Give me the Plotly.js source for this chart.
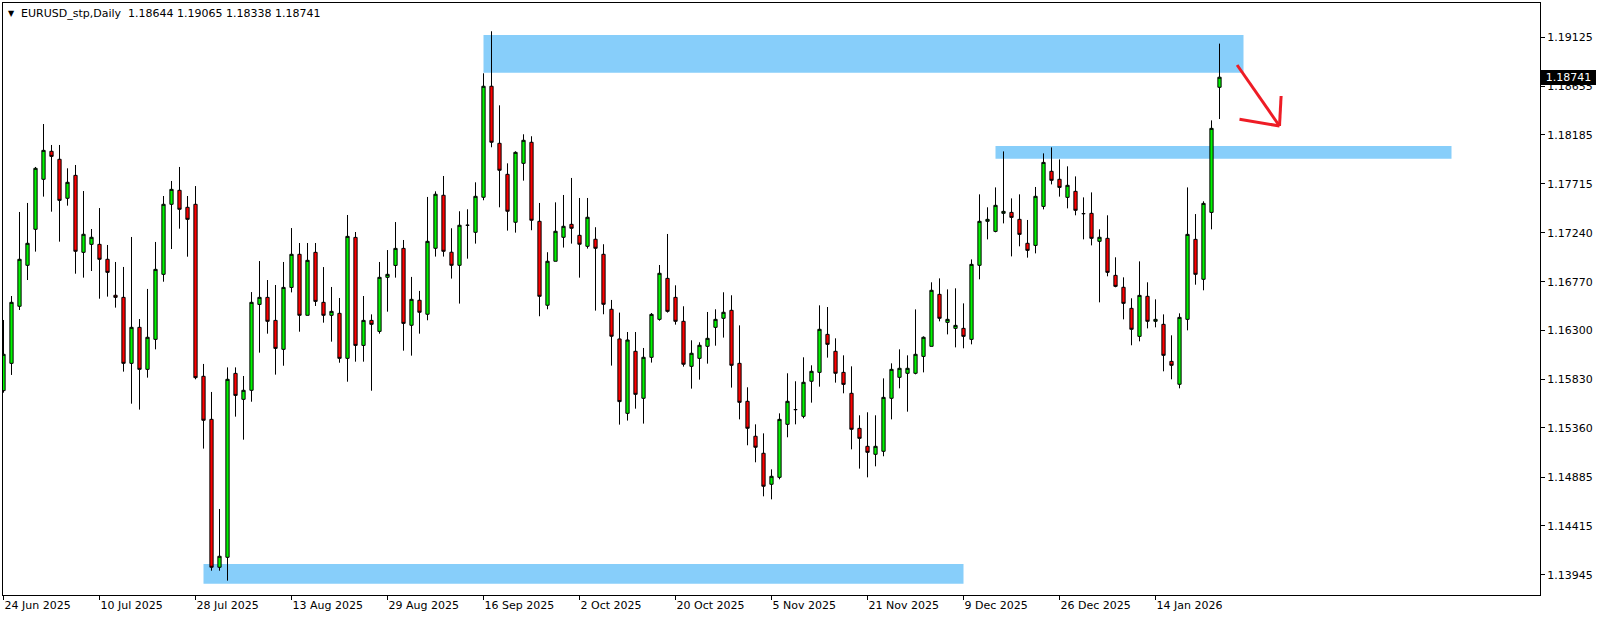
<!DOCTYPE html>
<html>
<head>
<meta charset="utf-8">
<script src="https://cdn.plot.ly/plotly-3.0.1.min.js"></script>
<style>
html,body{margin:0;padding:0;background:#fff;}
#chart{width:1604px;height:619px;}
</style>
</head>
<body>
<div id="chart"></div>
<script>
// ---- data (daily bars, index 0 = 24 Jun 2025) ----
const openP = [
1.15720,1.15983,1.16533,1.16928,1.17275,1.17757,1.18027,1.17950,1.17574,1.17795,
1.17053,1.17130,1.17130,1.16986,1.16639,1.16619,1.15983,1.16330,1.15925,1.16214,
1.16841,1.17516,1.17651,1.17487,1.17516,1.15858,1.15443,1.14017,1.14113,1.15886,
1.15636,1.15723,1.16551,1.16619,1.16397,1.16118,1.16715,1.17034,1.16446,1.17053,
1.16571,1.16446,1.16465,1.16031,1.17197,1.16156,1.16397,1.16291,1.16812,1.16927,
1.17091,1.16350,1.16591,1.16456,1.17092,1.17603,1.17054,1.16928,1.17314,1.17246,
1.17584,1.18654,1.18104,1.17805,1.17343,1.17911,1.18114,1.17352,1.16543,1.16967,
1.17198,1.17323,1.17217,1.17111,1.17179,1.17034,1.16504,1.16218,1.15501,1.16099,
1.15646,1.16041,1.16407,1.16802,1.16619,1.16388,1.15954,1.16031,1.16147,1.16330,
1.16417,1.16494,1.15983,1.15617,1.15280,1.15116,1.14817,1.14884,1.15395,1.15537,
1.15472,1.15810,1.15896,1.16262,1.16099,1.15896,1.15694,1.15356,1.15183,1.15106,
1.15135,1.15646,1.15848,1.15887,1.15887,1.16050,1.16147,1.16648,1.16378,1.16320,
1.16320,1.16214,1.16928,1.17352,1.17255,1.17429,1.17438,1.17371,1.17140,1.17120,
1.17496,1.17834,1.17757,1.17583,1.17641,1.17426,1.17429,1.17159,1.17188,1.16831,
1.16716,1.16513,1.16243,1.16629,1.16388,1.16359,1.16002,1.15781,1.16407,1.17178,
1.16793,1.17438,1.18644];
const highP = [
1.16401,1.16632,1.17442,1.17529,1.17876,1.18290,1.18088,1.18088,1.17863,1.17895,
1.17644,1.17278,1.17480,1.17124,1.16960,1.16912,1.17201,1.16410,1.16700,1.17153,
1.17596,1.17741,1.17876,1.17596,1.17692,1.15977,1.15707,1.14579,1.15944,1.15944,
1.15861,1.16670,1.16969,1.16786,1.16738,1.16960,1.17287,1.17143,1.17143,1.17143,
1.16911,1.16719,1.16613,1.17413,1.17249,1.16632,1.16455,1.16960,1.17075,1.17345,
1.17172,1.16816,1.16681,1.17587,1.17641,1.17789,1.17285,1.17449,1.17468,1.17728,
1.18779,1.19184,1.18470,1.17911,1.18027,1.18191,1.18172,1.17529,1.17054,1.17535,
1.17606,1.17770,1.17577,1.17577,1.17295,1.17131,1.16594,1.16472,1.16285,1.16285,
1.16131,1.16468,1.16931,1.17230,1.16735,1.16533,1.16205,1.16186,1.16478,1.16504,
1.16668,1.16639,1.16349,1.15752,1.15395,1.15308,1.14961,1.15501,1.15887,1.15810,
1.16041,1.15964,1.16542,1.16526,1.16224,1.16060,1.15954,1.15482,1.15511,1.15482,
1.15838,1.15983,1.16118,1.16060,1.16503,1.16243,1.16764,1.16802,1.16696,1.16706,
1.16561,1.16985,1.17612,1.17487,1.17679,1.18026,1.17573,1.17612,1.17365,1.17683,
1.18007,1.18065,1.17949,1.17882,1.17785,1.17583,1.17631,1.17275,1.17410,1.17005,
1.16812,1.16610,1.16966,1.16764,1.16600,1.16455,1.16253,1.16465,1.17679,1.17422,
1.17545,1.18325,1.19065];
const lowP = [
1.15700,1.15871,1.16497,1.16786,1.17060,1.17590,1.17445,1.17156,1.17503,1.16847,
1.16809,1.16873,1.16606,1.16626,1.16520,1.15903,1.15594,1.15537,1.15845,1.16118,
1.16770,1.17085,1.17281,1.17011,1.15829,1.15161,1.13984,1.13984,1.13888,1.15469,
1.15247,1.15613,1.16086,1.16269,1.15874,1.15960,1.16667,1.16288,1.16446,1.16536,
1.16375,1.16192,1.15989,1.15806,1.15999,1.15999,1.15719,1.16269,1.16481,1.16809,
1.16105,1.16057,1.16269,1.16398,1.17012,1.17012,1.16800,1.16559,1.16992,1.17137,
1.17555,1.18066,1.17487,1.17262,1.17243,1.17744,1.17266,1.16437,1.16504,1.16967,
1.17099,1.17137,1.16809,1.17089,1.16491,1.16456,1.15961,1.15392,1.15431,1.15546,
1.15402,1.15990,1.16394,1.16472,1.16356,1.15951,1.15739,1.15826,1.15980,1.16153,
1.16231,1.15749,1.15443,1.15193,1.15029,1.14701,1.14672,1.14865,1.15270,1.15395,
1.15453,1.15604,1.15758,1.16038,1.15797,1.15694,1.15154,1.14968,1.14884,1.14990,
1.15087,1.15443,1.15742,1.15517,1.15877,1.15896,1.16147,1.16388,1.16262,1.16137,
1.16128,1.16166,1.16793,1.17178,1.17246,1.17332,1.17014,1.17111,1.17002,1.17043,
1.17467,1.17708,1.17590,1.17477,1.17410,1.17178,1.17120,1.16571,1.16822,1.16716,
1.16407,1.16157,1.16195,1.16320,1.16330,1.15906,1.15829,1.15742,1.16301,1.16741,
1.16687,1.17275,1.18338];
const closeP = [
1.16070,1.16571,1.16986,1.17140,1.17863,1.18036,1.17978,1.17554,1.17728,1.17063,
1.17227,1.17198,1.16986,1.16860,1.16619,1.15983,1.16330,1.15925,1.16234,1.16889,
1.17516,1.17660,1.17468,1.17371,1.15845,1.15434,1.14017,1.14123,1.15829,1.15674,
1.15723,1.16571,1.16619,1.16388,1.16127,1.16715,1.17034,1.16446,1.16976,1.16580,
1.16446,1.16484,1.16031,1.17207,1.16156,1.16397,1.16359,1.16812,1.16841,1.17091,
1.16368,1.16600,1.16475,1.17159,1.17613,1.17063,1.16928,1.17314,1.17314,1.17593,
1.18654,1.18114,1.17844,1.17449,1.18017,1.18133,1.17362,1.16629,1.16967,1.17256,
1.17304,1.17285,1.17131,1.17391,1.17092,1.16552,1.16244,1.15614,1.16208,1.15684,
1.16041,1.16455,1.16851,1.16484,1.16388,1.15974,1.16080,1.16157,1.16224,1.16407,
1.16475,1.15964,1.15607,1.15357,1.15174,1.14798,1.14894,1.15443,1.15617,1.15537,
1.15800,1.15906,1.16311,1.16166,1.15887,1.15780,1.15347,1.15260,1.15125,1.15183,
1.15655,1.15925,1.15935,1.15935,1.16070,1.16234,1.16687,1.16417,1.16407,1.16349,
1.16243,1.16937,1.17352,1.17371,1.17506,1.17448,1.17390,1.17226,1.17072,1.17593,
1.17920,1.17747,1.17679,1.17699,1.17458,1.17426,1.17188,1.17198,1.16860,1.16725,
1.16561,1.16311,1.16638,1.16388,1.16407,1.16060,1.15964,1.16426,1.17226,1.16841,
1.17525,1.18248,1.18741];

const dateTickIdx = [0,12,24,36,48,60,72,84,96,108,120,132,144];
const dateTickText = ["24 Jun 2025","10 Jul 2025","28 Jul 2025","13 Aug 2025","29 Aug 2025",
  "16 Sep 2025","2 Oct 2025","20 Oct 2025","5 Nov 2025","21 Nov 2025","9 Dec 2025",
  "26 Dec 2025","14 Jan 2026"];
const priceTicks = [1.19125,1.18655,1.18185,1.17715,1.17240,1.16770,1.16300,1.15830,1.15360,1.14885,1.14415,1.13945];
const priceTickText = ["1.19125","1.18655","1.18185","1.17715","1.17240","1.16770","1.16300","1.15830","1.15360","1.14885","1.14415","1.13945"];

// zones: [startBar, endBar, lowPrice, highPrice]
const zoneStart = [60, 124, 25];
const zoneEnd   = [155, 181, 120];
const zoneLow   = [1.18785, 1.17956, 1.13859];
const zoneHigh  = [1.19148, 1.18077, 1.14049];

// hand-drawn arrow segments in bar/price units
const arrowX0 = [154.2, 154.5, 159.7];
const arrowY0 = [1.18859, 1.18336, 1.18560];
const arrowX1 = [159.5, 159.5, 159.5];
const arrowY1 = [1.18271, 1.18271, 1.18271];

const symbolText = "EURUSD_stp,Daily  1.18644 1.19065 1.18338 1.18741";
const lastPrice = 1.18741;

// ---- build ----
const idx = openP.map((_, i) => i);

const trace = {
  type: 'candlestick',
  x: idx, open: openP, high: highP, low: lowP, close: closeP,
  increasing: {line: {color: '#000000', width: 1}, fillcolor: '#00f500'},
  decreasing: {line: {color: '#000000', width: 1}, fillcolor: '#ff0000'},
  whiskerwidth: 0,
  hoverinfo: 'skip',
  showlegend: false
};

const shapes = [];
for (let k = 0; k < zoneStart.length; k++) {
  shapes.push({type: 'rect', xref: 'x', yref: 'y', layer: 'below',
    x0: zoneStart[k], x1: zoneEnd[k], y0: zoneLow[k], y1: zoneHigh[k],
    fillcolor: '#87cefa', line: {width: 0}});
}
for (let k = 0; k < arrowX0.length; k++) {
  shapes.push({type: 'line', xref: 'x', yref: 'y', layer: 'above',
    x0: arrowX0[k], y0: arrowY0[k], x1: arrowX1[k], y1: arrowY1[k],
    line: {color: '#ee1c25', width: 3}});
}

const fontFam = '"DejaVu Sans", Verdana, sans-serif';
const L = 3, R = 64, T = 3, B = 24, W = 1604, H = 619;
const pw = W - L - R, ph = H - T - B;

const annotations = [
  {xref: 'paper', yref: 'paper', x: (6 - L) / pw, y: (H - B - 13.5) / ph,
   xanchor: 'left', yanchor: 'middle', showarrow: false, text: '▼',
   font: {family: fontFam, size: 8, color: '#000'}},
  {xref: 'paper', yref: 'paper', x: (19 - L) / pw, y: (H - B - 13.5) / ph,
   xanchor: 'left', yanchor: 'middle', showarrow: false, text: symbolText,
   font: {family: fontFam, size: 11, color: '#000'}},
  {xref: 'paper', yref: 'y', x: 1, xshift: 1, y: lastPrice,
   xanchor: 'left', yanchor: 'middle', showarrow: false,
   text: '1.18741', bgcolor: '#000000', borderpad: 1, borderwidth: 0,
   width: 53, align: 'center',
   font: {family: fontFam, size: 11, color: '#ffffff'}}
];

const layout = {
  width: W, height: H,
  margin: {l: L, r: R, t: T, b: B, pad: 0},
  paper_bgcolor: '#ffffff', plot_bgcolor: '#ffffff',
  showlegend: false,
  boxgap: 0.42,
  xaxis: {
    type: 'linear',
    range: [-0.0625, 192.0625],
    rangeslider: {visible: false},
    showgrid: false, zeroline: false,
    showline: true, linecolor: '#000', linewidth: 1, mirror: true,
    ticks: 'outside', ticklen: 4, tickcolor: '#000', tickwidth: 1,
    tickmode: 'array', tickvals: dateTickIdx, ticktext: dateTickText,
    ticklabelposition: 'outside right',
    tickfont: {family: fontFam, size: 11, color: '#000'},
    fixedrange: true
  },
  yaxis: {
    side: 'right',
    range: [1.137497, 1.194566],
    showgrid: false, zeroline: false,
    showline: true, linecolor: '#000', linewidth: 1, mirror: true,
    ticks: 'outside', ticklen: 4, tickcolor: '#000', tickwidth: 1,
    tickmode: 'array', tickvals: priceTicks, ticktext: priceTickText,
    tickfont: {family: fontFam, size: 11, color: '#000'},
    fixedrange: true
  },
  shapes: shapes,
  annotations: annotations,
  hovermode: false
};

Plotly.newPlot('chart', [trace], layout, {displayModeBar: false, staticPlot: true});
</script>
</body>
</html>
